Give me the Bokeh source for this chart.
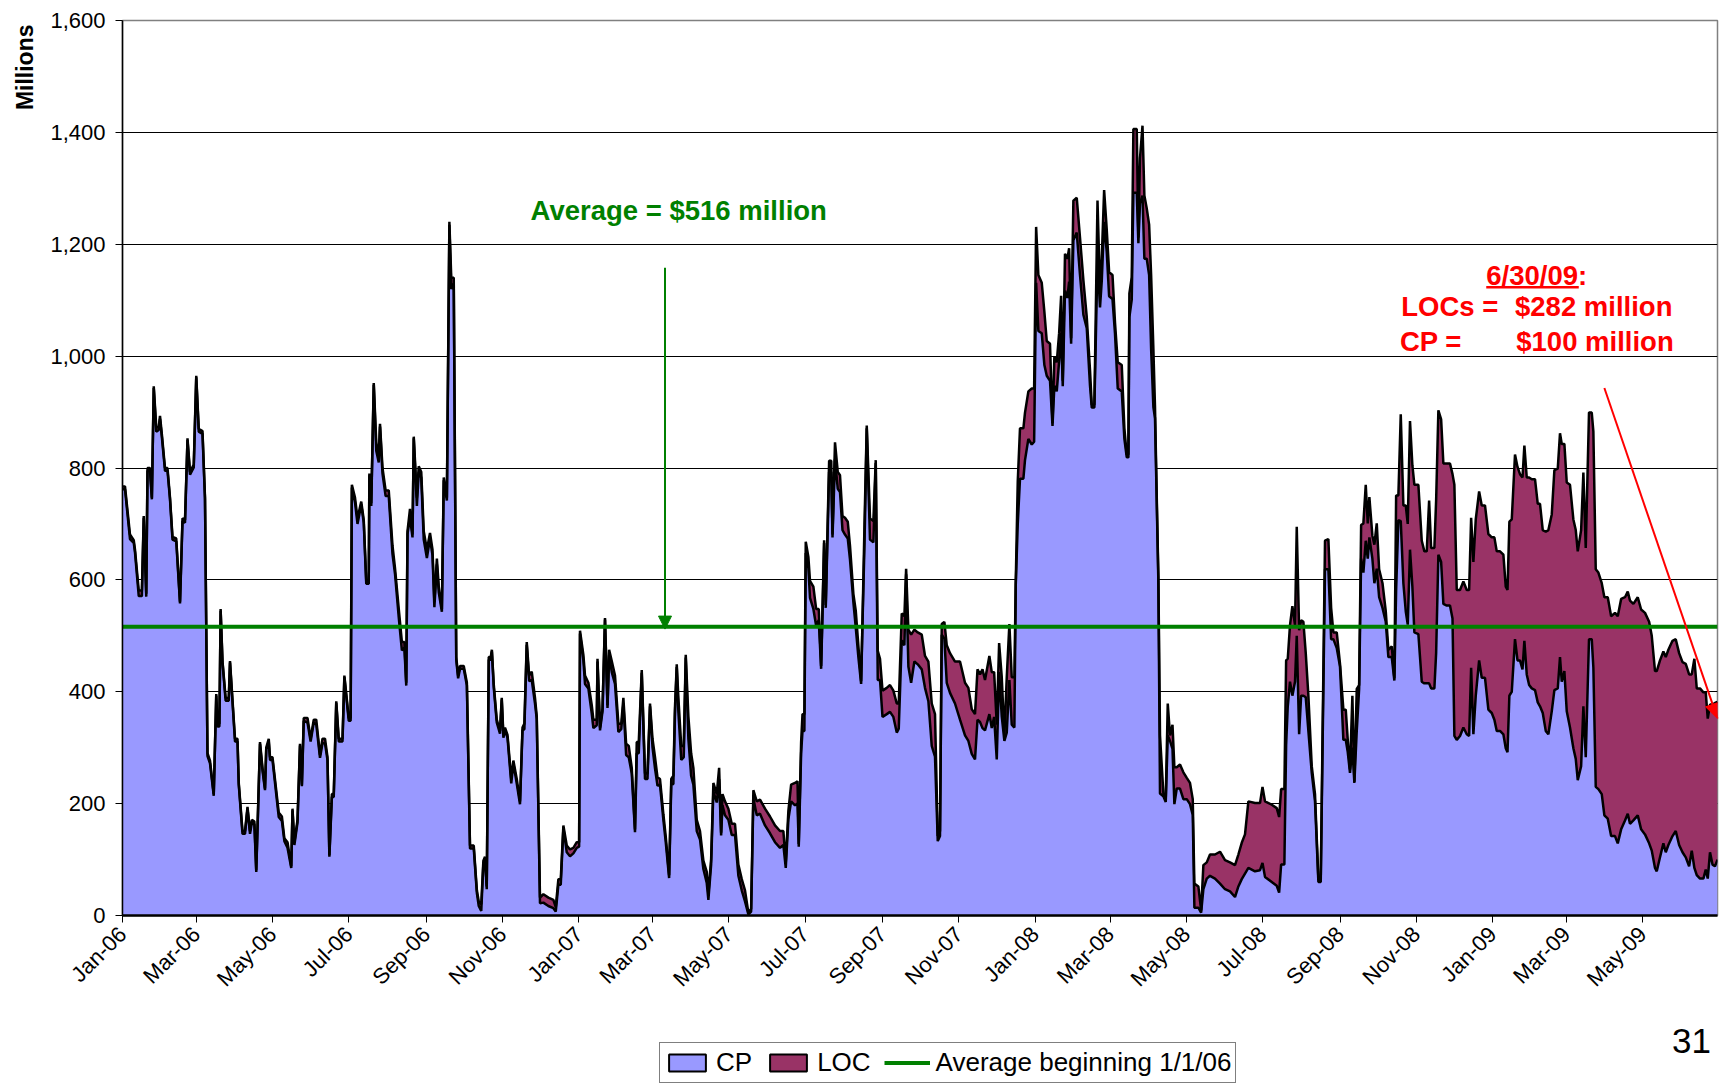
from math import pi
import pandas as pd
from bokeh.plotting import figure
from bokeh.layouts import column
from bokeh.models import (Range1d, FixedTicker, NumeralTickFormatter, Legend, LegendItem,
                          Label, Arrow, NormalHead, ColumnDataSource, Title)
from bokeh.embed import file_html
from bokeh.resources import INLINE

START = pd.Timestamp("2006-01-01")

tick_labels = ["Jan-06", "Mar-06", "May-06", "Jul-06", "Sep-06", "Nov-06",
               "Jan-07", "Mar-07", "May-07", "Jul-07", "Sep-07", "Nov-07",
               "Jan-08", "Mar-08", "May-08", "Jul-08", "Sep-08", "Nov-08",
               "Jan-09", "Mar-09", "May-09"]

AVERAGE = 516  # $ millions, average beginning 1/1/06

# days since 1 Jan 2006
days = [
    0, 2, 6, 9, 10, 13, 15.5, 17, 19, 20,
    22, 23.5, 25, 27, 29, 30, 31.5, 34, 36, 38,
    40, 43, 46, 48, 50, 52, 54, 57, 59, 61,
    64, 66, 68, 70, 73, 75, 76, 77.5, 78.5, 80,
    82.5, 85, 86, 90, 92, 93, 96, 98, 100, 102,
    103.5, 105.5, 107, 110, 112, 114, 115, 117, 118, 120,
    125, 127.5, 129.5, 132, 135, 136, 137.5, 140, 142, 143.5,
    145, 148, 150.5, 153, 155, 158, 160, 162, 164, 165.5,
    167.5, 169, 171, 173, 176, 177.5, 181, 182.5, 183.5, 186,
    188, 191, 193, 195, 197, 197.5, 199, 201, 203, 205,
    206, 208, 210.5, 213, 216, 218, 221, 223.5, 225.5, 227,
    228, 230, 232, 233, 235.5, 237, 239, 241, 243.5, 246,
    248, 249.5, 251.5, 253, 255.5, 257, 259.5, 261.5, 263, 265,
    267, 268.5, 270, 273, 275.5, 278, 281, 283.5, 285, 287,
    288.7, 290, 291.4, 293, 294.6, 295.5, 297, 299.4, 302, 303.4,
    304.7, 306, 308, 311, 312.7, 315.4, 318, 320, 321.5, 323.4,
    325.3, 327.4, 330, 331.4, 334, 336.7, 340.7, 344.7, 346.6, 348.7,
    350.6, 352.7, 355.4, 358, 360.7, 363.4, 365.3, 366, 368.7, 370,
    372.7, 375.4, 376.7, 379.4, 380, 382, 384, 386, 388, 389.3,
    391.4, 394, 396.7, 399, 400.7, 402.9, 405, 407.4, 410, 411.4,
    413, 415.4, 418, 420, 422, 424, 426, 428, 430, 432.7,
    434.6, 437.3, 439, 440.7, 442, 443.4, 444.7, 447, 449, 450.6,
    452.7, 454.9, 456.7, 459.4, 462, 464.7, 467.4, 468.7, 470.9, 472.7,
    475.4, 477.3, 478.9, 480, 482, 484.7, 487.4, 490, 492.7, 495.4,
    498, 500.7, 502.9, 504.7, 507.4, 510, 514, 518, 522, 526,
    528.7, 530.6, 532.7, 534.9, 538, 540, 541, 542.9, 544, 545.5,
    546.6, 548.7, 550, 552.7, 554.9, 557, 558.9, 560, 561.3, 562.6,
    565.3, 567, 568, 570, 572.2, 574, 576, 578, 580.2, 582,
    584.7, 586.6, 588.7, 590.9, 592,
    593.6, 595.4, 598, 600.7, 602.6, 604.2, 606, 608, 611.4, 614,
    616.7, 619.4, 621, 623.4, 625.5, 626.9, 628.7, 630.9, 633.5, 636.2,
    639.4, 642, 644.7, 647.4, 650, 652.2, 654, 655.4, 657.5, 659.4,
    662, 666, 670, 674, 676.7, 679.4, 682, 684, 686, 688,
    690, 693.5, 695.4, 697.3, 699.4, 701.3, 703.4, 705.5, 707.4, 709.5,
    711.4, 713.5, 714.6, 716.2, 718, 720.7, 722, 724.7, 727.4, 729.3,
    730.9, 732.7, 735.4, 737.5, 739.4, 742, 744, 745.5, 747.4, 749.3,
    750.9, 752.2, 754, 755.9, 757.3, 758.9, 760.7, 763.4, 766, 768.7,
    771.4, 774, 775.4, 777.5, 780, 782, 783.4, 785.3, 787.4, 789.3,
    792, 794, 796.2, 799.4, 801.5, 803.4, 804.7, 805.5, 807.4, 808.7,
    811.4, 812.7, 814, 816, 817.5, 819.4, 821.3, 822.9, 824.7, 826,
    827.4, 828.7, 830, 832.7, 834.6, 836.2, 838, 840, 841.5, 843.4,
    846, 848.7, 851.4, 854, 856.2, 857.5, 860.7, 862.9, 864.7, 867.4,
    870, 874, 878, 882, 886, 890, 892.7, 895.4, 898, 900.7,
    906, 910, 912, 914, 919.4, 923.4, 925.3, 926.9, 929.5,
    930.9, 932.2, 934, 935.9, 938, 939.4, 941.3, 942.9, 944.7, 946.6,
    948.7, 951.4, 954, 956.7, 958.6, 962, 964.7, 966.9, 968.7, 971.4,
    974, 976.7, 978.6, 980.2, 982, 983.9, 985.5, 987.4, 989.3, 990.9,
    992.7, 994.6, 996.2, 997.5, 999.9, 1001.5, 1003.4, 1005.3, 1008, 1010.6,
    1012.7, 1015.4, 1017.5, 1018.9, 1020.7, 1022.6, 1024.7, 1026.6, 1028.2, 1030,
    1031.9, 1033.5, 1036.7, 1039.4, 1041.5, 1043.4, 1045.3, 1046.9, 1049.5, 1050.9,
    1052.7, 1054.9, 1056.7, 1059.4, 1062, 1064, 1065.5, 1067.4, 1070, 1072.7,
    1075.4, 1077.3, 1078.9, 1080.7, 1082.6, 1085.3, 1087.4, 1090, 1092.7, 1095.4,
    1097.5, 1099.4, 1102, 1104.7, 1106.6, 1108, 1109.5, 1111.4, 1114, 1116,
    1118, 1120, 1121.5, 1123.4, 1125.3, 1127.4, 1130, 1132.2, 1134, 1136.2,
    1138.6, 1140.7, 1143.4, 1145.5, 1148.2, 1150, 1151.4, 1153.5, 1155.4, 1158,
    1160.7, 1162.6, 1164.2, 1166.9, 1168.7, 1170.6, 1173.2, 1175.4, 1176.7, 1178.6,
    1180.7, 1183.4, 1185.5, 1188.2, 1190.9, 1194, 1196.2, 1198.9, 1202, 1204.2,
    1206, 1208.7, 1212.2, 1214.9, 1218, 1221.3, 1223.4, 1226, 1227.4, 1230,
    1232.7, 1234.6, 1236.7, 1240, 1242.6, 1245.3, 1248, 1250.6, 1253.3, 1255.4,
    1257.5, 1259.4, 1262, 1264.7, 1266.6, 1268.2, 1270, 1272, 1274, 1276,
]

# commercial paper outstanding, $ millions
cp = [
    762, 762, 673, 666, 649, 571, 571, 711, 570, 795,
    795, 744, 943, 865, 868, 888, 855, 795, 795, 744,
    672, 669, 558, 705, 702, 850, 788, 801, 962, 865,
    861, 744, 285, 272, 214, 393, 338, 338, 545, 452,
    384, 384, 452, 311, 311, 234, 146, 146, 191, 146,
    166, 163, 78, 307, 259, 224, 297, 311, 278, 278,
    176, 169, 133, 121, 85, 188, 126, 166, 304, 231,
    348, 345, 311, 345, 342, 282, 308, 308, 278, 105,
    212, 212, 380, 311, 311, 426, 348, 348, 765, 739,
    700, 735, 702, 593, 593, 787, 732, 949, 831, 810,
    874, 790, 750, 750, 646, 611, 533, 474, 479, 411,
    682, 712, 676, 853, 732, 793, 783, 672, 639, 674,
    644, 551, 628, 578, 543, 778, 742, 1235, 1120, 1130,
    457, 424, 441, 441, 411, 120, 120, 40, 17, 8,
    93, 100, 47, 457, 457, 472, 408, 345, 325, 386,
    318, 331, 318, 236, 272, 236, 199, 331, 333, 484,
    419, 421, 379, 351, 22, 23, 17, 13, 7, 55,
    55, 156, 113, 106, 111, 121, 123, 504, 456, 414,
    406, 361, 335, 340, 454, 331, 365, 529, 371, 465,
    435, 414, 328, 333, 379, 287, 283, 254, 149, 290,
    290, 434, 244, 244, 374, 301, 263, 232, 234, 171,
    131, 67, 234, 235, 363, 444, 364, 278, 283, 461,
    316, 250, 234, 151, 136, 83, 58, 28, 91, 222,
    202, 244, 143, 197, 179, 171, 144, 144, 71, 45,
    25, 2, 7, 209, 179, 182, 161, 147, 131, 121,
    126, 85, 172, 204, 197, 200, 123, 290, 330, 330,
    648, 621, 568, 548, 518, 528, 441, 538, 666, 550,
    793, 793, 676, 816, 763, 757, 689, 681, 674, 636,
    560, 515, 462, 414, 523,
    665, 871, 672, 667, 809, 421, 421, 355, 360, 364,
    355, 327, 334, 492, 483, 610, 445, 416, 454, 449,
    440, 407, 383, 303, 284, 133, 142, 502, 495, 416,
    398, 379, 350, 322, 312, 289, 279, 350, 346, 335,
    331, 360, 335, 355, 279, 435, 356, 312, 327, 421,
    341, 336, 591, 700, 781, 781, 814, 852, 842, 847,
    1131, 1045, 1041, 984, 965, 956, 875, 947, 937, 991,
    1041, 946, 1117, 1104, 1133, 1022, 1207, 1221, 1145, 1074,
    1050, 947, 908, 908, 1174, 1087, 1134, 1240, 1186, 1107,
    1102, 1040, 942, 937, 852, 819, 819, 1070, 1101, 1292,
    1292, 1202, 1273, 1287, 1174, 1174, 1145, 1013, 909, 889,
    738, 596, 218, 213, 203, 322, 312, 298, 199, 227,
    227, 208, 208, 199, 180, 14, 14, 5, 47, 66,
    71, 66, 57, 47, 43, 33, 52, 65, 75, 85,
    79, 81, 94, 69, 60, 53, 41, 91, 91,
    305, 374, 418, 393, 418, 500, 324, 393, 393, 390,
    330, 255, 204, 60, 60, 619, 619, 494, 494, 478,
    445, 314, 314, 292, 255, 300, 237, 330, 405, 638,
    613, 670, 638, 676, 638, 594, 620, 569, 550, 525,
    462, 462, 420, 582, 707, 705, 594, 544, 520, 654,
    588, 506, 503, 418, 415, 415, 415, 406, 406, 469,
    645, 632, 557, 554, 554, 531, 321, 314, 321, 336,
    324, 321, 443, 324, 393, 456, 425, 425, 368, 362,
    350, 330, 330, 324, 299, 292, 393, 400, 494, 456,
    456, 440, 491, 431, 412, 406, 403, 381, 374, 362,
    330, 324, 365, 403, 406, 462, 418, 437, 365, 336,
    299, 280, 242, 267, 374, 283, 494, 494, 443, 230,
    226, 217, 179, 173, 142, 142, 129, 154, 170, 182,
    164, 170, 179, 154, 145, 129, 116, 85, 79, 104,
    129, 113, 126, 142, 151, 126, 113, 104, 88, 116,
    85, 72, 66, 66, 82, 66, 113, 91, 88, 100,
]

# lines of credit drawn, $ millions
loc = [
    5, 5, 8, 5, 5, 10, 10, 3, 5, 5,
    5, 3, 3, 8, 5, 5, 5, 5, 5, 3,
    5, 5, 3, 5, 5, 3, 5, 5, 3, 5,
    5, 3, 5, 5, 3, 3, 5, 5, 3, 3,
    5, 5, 3, 5, 5, 3, 5, 5, 3, 5,
    5, 5, 3, 3, 5, 3, 3, 5, 5, 5,
    8, 8, 5, 10, 3, 3, 5, 5, 3, 3,
    5, 8, 5, 5, 8, 5, 8, 8, 5, 3,
    5, 5, 3, 5, 5, 3, 5, 5, 5, 8,
    10, 5, 5, 5, 5, 3, 5, 3, 15, 10,
    5, 10, 10, 10, 15, 10, 15, 15, 10, 5,
    5, 15, 5, 3, 15, 10, 10, 15, 15, 10,
    10, 10, 10, 10, 5, 5, 5, 5, 20, 10,
    5, 5, 5, 5, 5, 5, 5, 5, 8, 12,
    5, 5, 5, 5, 5, 3, 5, 5, 5, 3,
    5, 5, 5, 8, 5, 8, 5, 5, 10, 5,
    10, 15, 10, 5, 10, 15, 15, 15, 8, 10,
    10, 5, 12, 12, 10, 10, 8, 5, 10, 15,
    10, 15, 15, 10, 5, 5, 5, 3, 5, 10,
    20, 15, 15, 10, 10, 20, 20, 10, 5, 20,
    20, 5, 10, 10, 5, 15, 20, 15, 10, 10,
    10, 5, 10, 15, 10, 5, 25, 25, 20, 5,
    40, 40, 30, 20, 15, 15, 20, 10, 10, 15,
    15, 20, 5, 20, 25, 20, 20, 20, 20, 20,
    20, 3, 5, 15, 25, 25, 30, 30, 30, 30,
    25, 10, 15, 30, 40, 40, 5, 20, 30, 30,
    20, 20, 30, 40, 30, 20, 5, 10, 5, 5,
    20, 20, 5, 30, 30, 30, 25, 30, 30, 25,
    15, 30, 20, 5, 5,
    35, 5, 38, 38, 5, 52, 38, 47, 47, 48,
    47, 52, 45, 48, 52, 10, 66, 86, 57, 57,
    62, 57, 71, 76, 76, 9, 9, 19, 30, 67,
    71, 75, 104, 94, 95, 80, 81, 90, 85, 105,
    90, 104, 100, 80, 62, 52, 70, 10, 99, 100,
    85, 90, 5, 76, 90, 90, 85, 85, 100, 95,
    100, 100, 90, 95, 62, 66, 5, 52, 52, 50,
    67, 10, 66, 70, 60, 10, 71, 62, 67, 62,
    20, 28, 5, 5, 104, 30, 40, 57, 40, 43,
    43, 20, 47, 47, 19, 5, 5, 42, 40, 114,
    114, 10, 81, 125, 113, 90, 90, 132, 104, 20,
    10, 10, 104, 5, 5, 57, 10, 43, 66, 38,
    43, 48, 38, 38, 28, 43, 38, 4, 43, 29,
    38, 43, 57, 52, 52, 57, 57, 65, 70, 119,
    122, 120, 136, 135, 138, 139, 135, 135, 135,
    151, 85, 101, 160, 101, 195, 186, 135, 132, 79,
    63, 12, 13, 6, 6, 51, 54, 56, 12, 28,
    5, 54, 54, 22, 6, 93, 2, 75, 7, 60,
    88, 100, 63, 72, 41, 69, 81, 50, 44, 19,
    13, 19, 4, 169, 44, 191, 139, 189, 180, 230,
    217, 264, 267, 252, 236, 236, 327, 251, 251, 273,
    258, 255, 251, 254, 254, 258, 449, 268, 261, 261,
    258, 261, 268, 308, 315, 302, 308, 308, 314, 314,
    326, 321, 321, 321, 289, 290, 311, 308, 330, 346,
    333, 343, 349, 352, 371, 374, 377, 355, 362, 327,
    356, 365, 352, 393, 393, 400, 425, 406, 409, 434,
    409, 409, 409, 422, 418, 374, 405, 405, 422, 389,
    387, 377, 390, 396, 393, 399, 406, 412, 399, 397,
    399, 387, 390, 393, 396, 396, 384, 352, 358, 352,
    343, 349, 349, 349, 343, 343, 340, 346, 343, 315,
    374, 334, 340, 333, 317, 286, 264, 286, 292, 282,
]

assert len(days) == len(cp) == len(loc), (len(days), len(cp), len(loc))

CP_COLOR = "#9999FF"
LOC_COLOR = "#993366"
GREEN = "#008000"
RED = "#FF0000"
FONT = "Liberation Sans"

tick_dates = pd.date_range(START, periods=len(tick_labels), freq="2MS")
tick_days = [int((d - START).days) for d in tick_dates]
end_day = days[-1]

total = [c + l for c, l in zip(cp, loc)]
src = ColumnDataSource(dict(x=days, cp=cp, top=total, avg=[AVERAGE] * len(days)))

# ---------------- main chart ----------------
p = figure(frame_width=1595, frame_height=895, output_backend="svg",
           toolbar_location=None,
           x_range=Range1d(0, end_day), y_range=Range1d(0, 1600),
           min_border_left=121, min_border_right=5, min_border_top=20,
           min_border_bottom=105)
p.background_fill_color = "white"
p.border_fill_color = "white"
p.outline_line_color = "#808080"
p.outline_line_width = 1.5

p.xgrid.visible = False
p.ygrid.ticker = FixedTicker(ticks=list(range(200, 1600, 200)))
p.ygrid.grid_line_color = "#000000"
p.ygrid.grid_line_width = 1

p.yaxis.ticker = FixedTicker(ticks=list(range(0, 1601, 200)))
p.yaxis.formatter = NumeralTickFormatter(format="0,0")
p.yaxis.major_label_text_font = FONT
p.yaxis.major_label_text_font_size = "22px"
p.yaxis.major_label_text_color = "black"
p.yaxis.major_tick_out = 7
p.yaxis.major_tick_in = 0
p.yaxis.minor_tick_line_color = None
p.yaxis.axis_line_width = 1.5
p.yaxis.major_label_standoff = 10

p.xaxis.ticker = FixedTicker(ticks=tick_days)
p.xaxis.major_label_overrides = {d: lab for d, lab in zip(tick_days, tick_labels)}
p.xaxis.major_label_orientation = pi / 4
p.xaxis.major_label_text_font = FONT
p.xaxis.major_label_text_font_size = "22px"
p.xaxis.major_label_text_color = "black"
p.xaxis.major_tick_out = 7
p.xaxis.major_tick_in = 0
p.xaxis.minor_tick_line_color = None
p.xaxis.axis_line_width = 2.5
p.xaxis.major_label_standoff = 8

p.varea(x="x", y1=0, y2="cp", source=src, fill_color=CP_COLOR)
p.varea(x="x", y1="cp", y2="top", source=src, fill_color=LOC_COLOR)
p.line("x", "cp", source=src, line_color="black", line_width=2.5)
p.line("x", "top", source=src, line_color="black", line_width=2.5)
p.line("x", "avg", source=src, line_color=GREEN, line_width=4)

p.add_layout(Title(text="Millions", align="right", offset=4, standoff=19,
                   text_font=FONT, text_font_size="23px", text_font_style="bold",
                   text_color="black"), "left")

p.add_layout(Label(x=445, y=1260, text="Average = $516 million", text_align="center",
                   text_baseline="middle", text_font=FONT, text_font_size="27.5px",
                   text_font_style="bold", text_color=GREEN))
p.add_layout(Arrow(end=NormalHead(size=13, fill_color=GREEN, line_color=GREEN),
                   x_start=434, y_start=1158, x_end=434, y_end=512,
                   line_color=GREEN, line_width=2))

red_kw = dict(text_baseline="middle", text_font=FONT, text_font_size="27.5px",
              text_font_style="bold", text_color=RED, text_align="left")
p.add_layout(Label(x=1091, y=1145, text="6/30/09:", **red_kw))
p.segment(x0=[1091], x1=[1165], y0=[1123], y1=[1123], line_color=RED, line_width=2.5)
p.add_layout(Label(x=1023, y=1089, text="LOCs =", **red_kw))
p.add_layout(Label(x=1114, y=1089, text="$282 million", **red_kw))
p.add_layout(Label(x=1022, y=1026, text="CP =", **red_kw))
p.add_layout(Label(x=1115, y=1026, text="$100 million", **red_kw))
p.add_layout(Arrow(end=NormalHead(size=15, fill_color=RED, line_color=RED),
                   x_start=1185.5, y_start=943, x_end=end_day, y_end=352,
                   line_color=RED, line_width=2))

# ---------------- legend strip ----------------
# The strip's ranges keep its proxy renderers out of view; only legends are seen.
q = figure(frame_width=1721, frame_height=66, output_backend="svg",
           toolbar_location=None, x_axis_type=None, y_axis_type=None,
           x_range=Range1d(0, end_day), y_range=Range1d(5000, 6000),
           min_border=0)
q.outline_line_color = None
q.background_fill_color = "white"
q.border_fill_color = "white"
q.grid.visible = False

cp_sw = q.quad(left="x", right="x", top="cp", bottom=0, source=src,
               fill_color=CP_COLOR, line_color="black", line_width=2)
loc_sw = q.quad(left="x", right="x", top="top", bottom="cp", source=src,
                fill_color=LOC_COLOR, line_color="black", line_width=2)
avg_sw = q.line("x", "avg", source=src, line_color=GREEN, line_width=4)
page_sw = q.line("x", "avg", source=src, line_alpha=0)

legend = Legend(items=[LegendItem(label="CP", renderers=[cp_sw]),
                       LegendItem(label="LOC", renderers=[loc_sw]),
                       LegendItem(label="Average beginning 1/1/06", renderers=[avg_sw])],
                orientation="horizontal", location=(659, 3),
                label_text_font=FONT, label_text_font_size="26px",
                label_text_color="black",
                glyph_width=46, glyph_height=21, label_standoff=6, spacing=13,
                padding=4, margin=0, border_line_color="black",
                border_line_width=1.5, background_fill_color="white",
                background_fill_alpha=1.0)
q.add_layout(legend)

page_no = Legend(items=[LegendItem(label="31", renderers=[page_sw])],
                 location=(1672, 25), glyph_width=0, glyph_height=20,
                 label_standoff=0, padding=0, margin=0, spacing=0,
                 label_text_font=FONT, label_text_font_size="35px",
                 label_text_color="black", border_line_color=None,
                 background_fill_alpha=0)
q.add_layout(page_no)

layout = column(p, q, spacing=0)
open("out.html", "w").write(file_html(layout, INLINE))
